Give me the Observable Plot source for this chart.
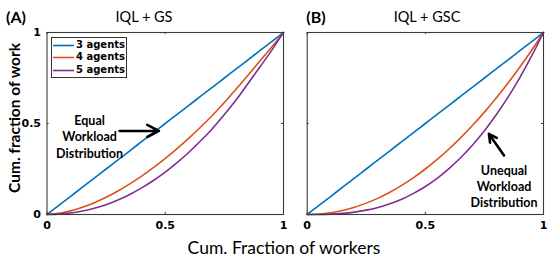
<!DOCTYPE html>
<html>
<head>
<meta charset="utf-8">
<script src="https://cdn.jsdelivr.net/npm/d3@7"></script>
<script src="https://cdn.jsdelivr.net/npm/@observablehq/plot@0.6"></script>
<style>
  html, body { margin: 0; padding: 0; background: #fff; }
  #root { position: relative; width: 556px; height: 257px; overflow: hidden; font-family: Lato, "Open Sans", sans-serif; color: #000; }
  .abs { position: absolute; white-space: nowrap; line-height: 1; }
</style>
</head>
<body>
<div id="root"></div>
<script>
// ---- data ----
const workers = [0, 0.05, 0.1, 0.15, 0.2, 0.25, 0.3, 0.35, 0.4, 0.45, 0.5, 0.55, 0.6, 0.65, 0.7, 0.75, 0.8, 0.85, 0.9, 0.95, 1];
const seriesNames = ["3 agents", "4 agents", "5 agents"];
const colors = ["#0072BD", "#D95319", "#7E2F8E"];
// Panel A: IQL + GS
const gs3 = [0, 0.05, 0.1, 0.15, 0.2, 0.25, 0.3, 0.35, 0.4, 0.45, 0.5, 0.55, 0.6, 0.65, 0.7, 0.75, 0.8, 0.85, 0.9, 0.95, 1];
const gs4 = [0, 0.006, 0.02, 0.04, 0.065, 0.095, 0.129, 0.168, 0.211, 0.257, 0.308, 0.362, 0.42, 0.481, 0.545, 0.615, 0.69, 0.765, 0.843, 0.92, 1];
const gs5 = [0, 0.002, 0.008, 0.019, 0.034, 0.054, 0.08, 0.11, 0.146, 0.187, 0.233, 0.285, 0.342, 0.405, 0.473, 0.549, 0.63, 0.72, 0.81, 0.902, 1];
// Panel B: IQL + GSC
const gsc3 = [0, 0.05, 0.1, 0.15, 0.2, 0.25, 0.3, 0.35, 0.4, 0.45, 0.5, 0.55, 0.6, 0.65, 0.7, 0.75, 0.8, 0.85, 0.9, 0.95, 1];
const gsc4 = [0, 0.0025, 0.01, 0.0225, 0.04, 0.0625, 0.09, 0.1225, 0.16, 0.2025, 0.25, 0.3025, 0.36, 0.4225, 0.49, 0.5625, 0.64, 0.7225, 0.81, 0.9025, 1];
const gsc5 = [0, 0.0003, 0.002, 0.006, 0.013, 0.024, 0.039, 0.059, 0.084, 0.116, 0.154, 0.199, 0.252, 0.313, 0.382, 0.46, 0.548, 0.645, 0.752, 0.871, 1];
const ticks = [0, 0.5, 1];
const tickLabels = ["0", "0.5", "1"];
const panelTitles = ["IQL + GS", "IQL + GSC"];
const panelLetters = ["(A)", "(B)"];
const annotA = [{x: 0.18, y: 0.43, text: "Equal\nWorkload\nDistribution", ax1: 0.307, ay1: 0.459, ax2: 0.473, ay2: 0.459}];
const annotB = [{x: 0.833, y: 0.157, text: "Unequal\nWorkload\nDistribution", ax1: 0.833, ay1: 0.324, ax2: 0.769, ay2: 0.443}];
const xLabel = "Cum. Fraction of workers";
const yLabel = "Cum. fraction of work";

function rows(arrs) {
  const out = [];
  arrs.forEach((arr, i) => arr.forEach((v, j) => out.push({x: workers[j], y: v, s: seriesNames[i]})));
  return out;
}

function panel({data, annot, width, marginLeft, marginRight, showY}) {
  const tickFmt = d => tickLabels[ticks.indexOf(d)];
  return Plot.plot({
    width, height: 257,
    marginLeft, marginRight, marginTop: 32, marginBottom: 43,
    style: {fontFamily: "DejaVu Sans", fontWeight: "bold", fontSize: "11px", color: "#000", background: "transparent", overflow: "visible"},
    x: {domain: [0, 1]},
    y: {domain: [0, 1], axis: showY ? undefined : null},
    color: {domain: seriesNames, range: colors},
    marks: [
      Plot.axisX({ticks, tickFormat: tickFmt, tickSize: 0, tickPadding: 7, label: null}),
      showY ? Plot.axisY({ticks, tickFormat: tickFmt, tickSize: 0, tickPadding: 6, label: null}) : null,
      // inward tick marks
      Plot.ruleX(ticks, {x: d => d, y1: 0, y2: 0.012, stroke: "#444", strokeWidth: 1}),
      Plot.ruleX(ticks, {x: d => d, y1: 0.988, y2: 1, stroke: "#444", strokeWidth: 1}),
      Plot.ruleY(ticks, {y: d => d, x1: 0, x2: 0.009, stroke: "#444", strokeWidth: 1}),
      Plot.ruleY(ticks, {y: d => d, x1: 0.991, x2: 1, stroke: "#444", strokeWidth: 1}),
      Plot.line(data, {x: "x", y: "y", z: "s", stroke: "s", strokeWidth: 1.6, curve: "monotone-x"}),
      Plot.frame({stroke: "#3a3a3a", strokeWidth: 1.1}),
      Plot.arrow(annot, {x1: "ax1", y1: "ay1", x2: "ax2", y2: "ay2", stroke: "#000", strokeWidth: 2.6, headLength: 9, headAngle: 55}),
      Plot.text(annot, {x: "x", y: "y", text: "text", fontFamily: "Lato", fontWeight: "bold", fontSize: 12.5, lineHeight: 1.3, fill: "#000"})
    ]
  });
}

const root = document.getElementById("root");
function place(el, left, top) {
  const w = document.createElement("div");
  w.style.position = "absolute"; w.style.left = left + "px"; w.style.top = top + "px";
  w.appendChild(el); root.appendChild(w);
}

place(panel({data: rows([gs3, gs4, gs5]), annot: annotA, width: 290, marginLeft: 46.5, marginRight: 7, showY: true}), 0, 0);
place(panel({data: rows([gsc3, gsc4, gsc5]), annot: annotB, width: 266, marginLeft: 16.7, marginRight: 13, showY: false}), 290, 0);

function label(text, cx, cy, css, rotate) {
  const d = document.createElement("div");
  d.className = "abs";
  d.textContent = text;
  Object.assign(d.style, css);
  d.style.left = cx + "px"; d.style.top = cy + "px";
  d.style.transform = "translate(-50%,-50%)" + (rotate ? " rotate(-90deg)" : "");
  root.appendChild(d);
}
label(panelLetters[0], 16, 17, {fontWeight: "bold", fontSize: "16px"});
label(panelLetters[1], 316, 17, {fontWeight: "bold", fontSize: "16px"});
label(panelTitles[0], 144, 16.5, {fontSize: "14.5px"});
label(panelTitles[1], 427, 16.5, {fontSize: "14.5px"});
label(xLabel, 284, 248, {fontSize: "17.5px"});
label(yLabel, 15, 118, {fontWeight: "bold", fontSize: "15.5px"}, true);

// legend
const leg = document.createElement("div");
Object.assign(leg.style, {position: "absolute", left: "51px", top: "36.5px", width: "74px", height: "39px", border: "1px solid #333", background: "#fff", boxSizing: "content-box"});
seriesNames.forEach((n, i) => {
  const row = document.createElement("div");
  Object.assign(row.style, {position: "absolute", left: "1px", top: (1 + i * 12.8) + "px", height: "12px", display: "flex", alignItems: "center"});
  const sw = document.createElementNS("http://www.w3.org/2000/svg", "svg");
  sw.setAttribute("width", "21"); sw.setAttribute("height", "12");
  const ln = document.createElementNS("http://www.w3.org/2000/svg", "line");
  ln.setAttribute("x1", "0"); ln.setAttribute("x2", "21"); ln.setAttribute("y1", "6.5"); ln.setAttribute("y2", "6.5");
  ln.setAttribute("stroke", colors[i]); ln.setAttribute("stroke-width", "1.6");
  sw.appendChild(ln);
  const t = document.createElement("span");
  t.textContent = n;
  Object.assign(t.style, {fontFamily: "DejaVu Sans", fontWeight: "bold", fontSize: "10px", marginLeft: "2px", lineHeight: "12px"});
  row.appendChild(sw); row.appendChild(t);
  leg.appendChild(row);
});
root.appendChild(leg);
</script>
</body>
</html>
